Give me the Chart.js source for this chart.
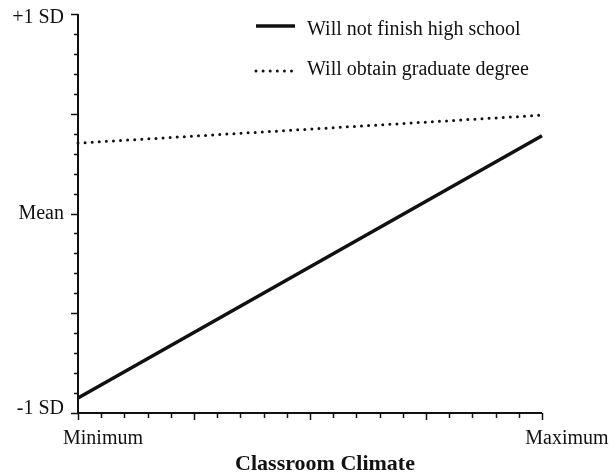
<!DOCTYPE html>
<html>
<head>
<meta charset="utf-8">
<script src="https://cdn.jsdelivr.net/npm/chart.js@4.4.1/dist/chart.umd.min.js"></script>
<style>
    html, body { margin: 0; padding: 0; background: #fff; }
</style>
</head>
<body>
<canvas id="grafico" width="616" height="474"></canvas>
<script>
// data (y in SD units, x from Minimum=0 to Maximum=1)
const climate = [0, 1];
const noHighSchool = [-0.925, 0.39];
const gradDegree = [0.353, 0.493];
const seriesNames = ["Will not finish high school", "Will obtain graduate degree"];

const xTickLabels = ["Minimum", "Maximum"];
const xLabelValues = [0, 1];
const yTickLabels = ["-1 SD", "Mean", "+1 SD"];
const yLabelValues = [-1, 0, 1];
const xTitle = "Classroom Climate";

const serif = "'Liberation Serif', 'Times New Roman', serif";

function toPoints(ys) {
    return climate.map((x, i) => ({ x: x, y: ys[i] }));
}

// axes, ticks, labels and legend drawn by hand from the chart's scales
const eixos = {
    id: "eixos",
    afterDraw(chart) {
        const ctx = chart.ctx;
        const xs = chart.scales.x;
        const ys = chart.scales.y;
        const area = chart.chartArea;
        ctx.save();
        ctx.strokeStyle = "#111";
        ctx.fillStyle = "#111";
        ctx.lineCap = "butt";

        // axis lines
        ctx.lineWidth = 2;
        ctx.beginPath();
        ctx.moveTo(area.left, area.top);
        ctx.lineTo(area.left, area.bottom);
        ctx.lineTo(area.right, area.bottom);
        ctx.stroke();

        // y ticks: every 0.1, longer every 0.5
        ctx.lineWidth = 1.5;
        for (let i = 0; i <= 20; i++) {
            const v = -1 + i * 0.1;
            const py = Math.round(ys.getPixelForValue(v)) + 0.5;
            const len = (i % 5 === 0) ? 7 : 4;
            ctx.beginPath();
            ctx.moveTo(area.left - len, py);
            ctx.lineTo(area.left, py);
            ctx.stroke();
        }
        // x ticks: every 0.05, longer every 0.25
        for (let i = 0; i <= 20; i++) {
            const px = Math.round(xs.getPixelForValue(i / 20)) + 0.5;
            const len = (i % 5 === 0) ? 7 : 5;
            ctx.beginPath();
            ctx.moveTo(px, area.bottom);
            ctx.lineTo(px, area.bottom + len);
            ctx.stroke();
        }

        ctx.font = "20px " + serif;
        ctx.textBaseline = "middle";
        ctx.textAlign = "right";
        yTickLabels.forEach((lab, i) => {
            let py = ys.getPixelForValue(yLabelValues[i]);
            py = Math.min(Math.max(py, area.top + 4), area.bottom - 4);
            ctx.fillText(lab, area.left - 14, py);
        });
        ctx.textAlign = "center";
        xTickLabels.forEach((lab, i) => {
            ctx.fillText(lab, xs.getPixelForValue(xLabelValues[i]) + 25, area.bottom + 26);
        });

        ctx.font = "bold 22px " + serif;
        ctx.fillText(xTitle, (area.left + area.right) / 2 + 15, area.bottom + 51);

        // legend
        ctx.font = "20px " + serif;
        ctx.textAlign = "left";
        const legY = [26, 71];
        const txtY = [30, 70];
        chart.data.datasets.forEach((ds, i) => {
            ctx.save();
            ctx.lineWidth = ds.borderWidth;
            ctx.setLineDash(ds.borderDash || []);
            ctx.lineCap = ds.borderCapStyle || "butt";
            ctx.beginPath();
            ctx.moveTo(256, legY[i]);
            ctx.lineTo(295, legY[i]);
            ctx.stroke();
            ctx.restore();
            ctx.fillText(ds.label, 307, txtY[i]);
        });
        ctx.restore();
    }
};

new Chart(document.getElementById("grafico").getContext("2d"), {
    type: "line",
    data: {
        datasets: [
            {
                label: seriesNames[0],
                data: toPoints(noHighSchool),
                borderColor: "#111",
                borderWidth: 3.5,
                pointRadius: 0,
                clip: false,
            },
            {
                label: seriesNames[1],
                data: toPoints(gradDegree),
                borderColor: "#111",
                borderWidth: 3,
                borderDash: [0, 7.1],
                borderCapStyle: "round",
                pointRadius: 0,
                clip: false,
            },
        ],
    },
    options: {
        responsive: false,
        animation: false,
        devicePixelRatio: 1,
        layout: { padding: { left: 78, right: 74, top: 14, bottom: 61 } },
        scales: {
            x: { type: "linear", min: 0, max: 1, display: false },
            y: { type: "linear", min: -1, max: 1, display: false },
        },
        plugins: {
            legend: { display: false },
            tooltip: { enabled: false },
        },
    },
    plugins: [eixos],
});
</script>
</body>
</html>
